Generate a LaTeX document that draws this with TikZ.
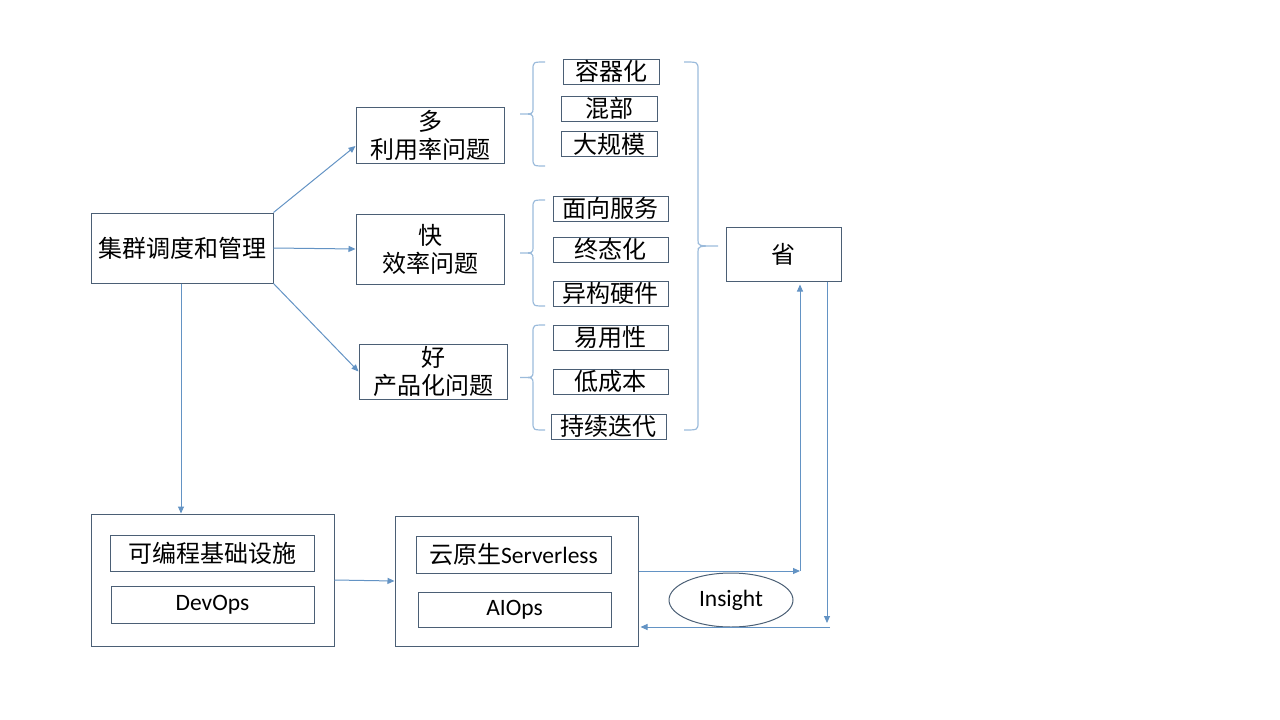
\documentclass[tikz,border=0pt]{standalone}
\usepackage{fontspec}
\setmainfont{Carlito}
\newfontfamily\zh{Noto Sans CJK SC}
\usepackage{xcolor}
\definecolor{bord}{HTML}{4B5F75}
\definecolor{fleche}{HTML}{6393C4}
\definecolor{accol}{HTML}{9BBBDB}
\usepackage{tikz}
\usetikzlibrary{positioning,arrows.meta,shapes.geometric}
\newcommand{\accolade}[5]{%
  \draw[accol,line width=1.2pt] (#1,#4) .. controls (#2,#4) .. (#2,#4+8)
    -- (#2,{(#4+#5)/2-6}) .. controls (#2,{(#4+#5)/2}) .. (#3,{(#4+#5)/2})
    .. controls (#2,{(#4+#5)/2}) .. (#2,{(#4+#5)/2+6})
    -- (#2,#5-8) .. controls (#2,#5) .. (#1,#5);}

\begin{document}
\begin{tikzpicture}[x=1pt,y=-1pt,
  boite/.style={draw=bord,line width=1pt,inner sep=0pt,align=center,font=\fontsize{24}{28}\selectfont\zh},
  petit/.style={boite,minimum height=25},
  latin/.style={boite,font=\fontsize{23.5}{26}\selectfont\rmfamily},
  liaison/.style={draw=fleche,line width=1pt,-{Triangle[length=7pt,width=6pt]}}
]
\useasboundingbox (0,0) rectangle (1280,720);
\node[boite,minimum width=182,minimum height=70] (jiqun) at (182,248) {集群调度和管理};
\node[boite,minimum width=148,minimum height=56] (duo) at (430,135) {多\\利用率问题};
\node[boite,minimum width=148,minimum height=70] (kuai) at (430,249) {快\\效率问题};
\node[boite,minimum width=148,minimum height=55] (hao) at (433,371.5) {好\\产品化问题};
\node[petit,minimum width=96] (rongqi) at (611,71.5) {容器化};
\node[petit,minimum width=96] (hunbu) at (609,108.5) {混部};
\node[petit,minimum width=96] (guimo) at (609,144) {大规模};
\node[petit,minimum width=115] (fuwu) at (610.5,208.5) {面向服务};
\node[petit,minimum width=115] (zhongtai) at (610.5,249.5) {终态化};
\node[petit,minimum width=115] (yigou) at (610.5,293.5) {异构硬件};
\node[petit,minimum width=115] (yiyong) at (610.5,337.5) {易用性};
\node[petit,minimum width=115] (chengben) at (610.5,381.5) {低成本};
\node[petit,minimum width=115] (diedai) at (608.5,426.5) {持续迭代};
\node[boite,minimum width=115,minimum height=54] (sheng) at (783.5,254) {省};
\node[boite,minimum width=243,minimum height=132] (infra) at (212.5,580) {};
\node[boite,minimum width=204,minimum height=36] (biancheng) at (212,553) {可编程基础设施};
\node[latin,minimum width=203,minimum height=37] (devops) at (212.5,604.5) {DevOps};
\node[boite,minimum width=243,minimum height=130] (cloud) at (516.5,581) {};
\node[boite,minimum width=195,minimum height=37] (serverless) at (513.5,554.5) {云原生{\rmfamily\fontsize{23.5}{26}\selectfont Serverless}};
\node[latin,minimum width=193,minimum height=35] (aiops) at (514.5,609.5) {AIOps};
\node[latin,ellipse,minimum width=124,minimum height=54] (insight) at (731,600) {Insight};
\coordinate (montee) at (800,571);
\coordinate (retour) at (827,627);
\draw[liaison] (jiqun.north east) -- ([yshift=-11pt]duo.west);
\draw[liaison] (jiqun.east) -- (kuai.west);
\draw[liaison] (jiqun.south east) -- (hao.west);
\draw[liaison] (jiqun.south -| 181,0) -- (infra.north -| 181,0);
\draw[liaison] (infra.east) -- (cloud.west);
\draw[liaison] (cloud.east |- montee) -- (montee);
\draw[liaison,shorten >=3pt] (montee) -- (sheng.south -| montee);
\draw[liaison,shorten >=4pt] (sheng.south -| retour) -- (retour);
\draw[liaison] ([xshift=3pt]retour) -- ([xshift=2pt]cloud.east |- retour);
\accolade{545}{533}{520}{62}{166}
\accolade{545}{533}{520}{200}{306}
\accolade{545}{533}{520}{325}{430}
\accolade{684}{698}{718}{62}{430}
\end{tikzpicture}
\end{document}
